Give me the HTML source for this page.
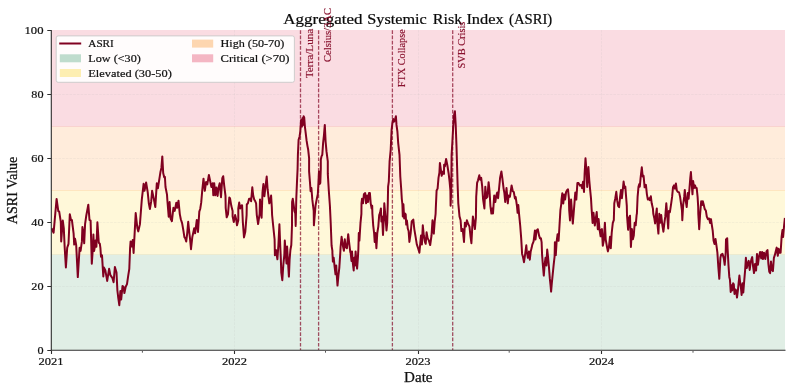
<!DOCTYPE html>
<html><head><meta charset="utf-8"><title>ASRI</title>
<style>
html,body{margin:0;padding:0;background:#fff;}
body{width:793px;height:392px;overflow:hidden;font-family:"Liberation Serif",serif;}
svg{display:block}
text{font-family:"Liberation Serif",serif;}
</style></head><body>
<svg width="793" height="392" viewBox="0 0 793 392" style="will-change:transform">
<rect x="0" y="0" width="793" height="392" fill="#ffffff"/>
<defs><clipPath id="ax"><rect x="51.0" y="30.0" width="734.0" height="320.0"/></clipPath></defs>
<!-- bands -->
<rect x="51.0" y="30.0" width="734.0" height="96.0" fill="#fadce2"/>
<rect x="51.0" y="126.0" width="734.0" height="64.0" fill="#ffecdb"/>
<rect x="51.0" y="190.0" width="734.0" height="64.0" fill="#fff8d9"/>
<rect x="51.0" y="254.0" width="734.0" height="96.0" fill="#e0eee5"/>
<path d="M51.0,126.5H785.0" stroke="#f9d3cf" stroke-width="1"/>
<path d="M51.0,190.5H785.0" stroke="#fee6c0" stroke-width="1"/>
<path d="M51.0,254.5H785.0" stroke="#ecebd0" stroke-width="1"/>
<!-- grid -->
<g stroke="#b0b0b0" stroke-opacity="0.19" stroke-width="0.7" stroke-dasharray="2.6,1.1" fill="none">
<path d="M51.0,286.5H785.0 M51.0,222.5H785.0 M51.0,158.5H785.0 M51.0,94.5H785.0"/>
<path d="M234.5,30.0V350.0 M418.5,30.0V350.0 M601.5,30.0V350.0"/>
</g>
<!-- event lines -->
<g stroke="#800020" stroke-opacity="0.68" stroke-width="1.3" stroke-dasharray="3.7,1.6" stroke-dashoffset="1.9" fill="none">
<path d="M300.5,350.0V30.0 M318.6,350.0V30.0 M392.4,350.0V30.0 M452.7,350.0V30.0"/>
</g>
<!-- data line -->
<path id="asri" clip-path="url(#ax)" d="M51.5,228.3 L53.6,232.7 L56.6,198.9 L58.3,211.1 L59.2,211.7 L60.8,221.9 L61.2,241.4 L62.8,220.6 L63.8,228.3 L64.7,247.8 L65.9,267.5 L67.2,247.8 L68.5,243.9 L69.8,214.2 L71.0,220.0 L71.9,220.0 L73.6,233.4 L74.2,244.6 L75.1,238.8 L76.2,245.2 L77.8,277.1 L79.6,247.8 L80.6,250.9 L81.9,241.4 L82.4,227.0 L83.4,233.4 L84.2,243.3 L85.1,223.8 L86.3,215.5 L88.3,204.7 L89.5,220.0 L90.6,220.6 L91.8,263.7 L92.9,247.8 L93.4,234.5 L94.1,251.0 L94.8,247.0 L95.4,240.6 L96.4,246.7 L97.4,222.2 L98.8,242.7 L99.8,243.7 L100.4,247.8 L101.0,256.7 L102.0,255.4 L103.3,276.4 L104.0,267.6 L105.3,270.1 L107.2,280.9 L109.1,268.8 L110.4,275.2 L112.3,277.8 L113.6,282.2 L114.9,266.9 L116.5,272.6 L117.4,290.5 L118.3,298.2 L119.3,305.2 L120.4,291.1 L121.2,299.4 L122.5,286.1 L123.4,286.7 L124.4,293.1 L125.7,286.7 L127.0,284.1 L128.3,275.2 L129.3,268.8 L130.1,247.8 L130.6,241.4 L131.6,246.5 L132.7,240.1 L133.6,252.9 L134.4,237.6 L134.7,232.1 L135.7,213.0 L137.4,228.3 L138.3,231.4 L139.9,224.4 L141.8,199.6 L143.6,183.8 L144.5,190.8 L146.1,182.5 L147.7,192.1 L148.9,203.9 L149.9,209.0 L151.2,201.4 L152.1,190.8 L153.8,198.8 L155.3,207.1 L156.8,183.2 L157.9,188.3 L158.9,181.9 L160.4,172.3 L161.4,167.9 L162.3,156.4 L163.2,173.0 L164.2,177.4 L164.9,176.8 L165.5,187.0 L167.0,194.6 L167.4,200.7 L168.7,216.7 L169.6,202.0 L170.6,218.6 L171.9,221.2 L173.4,207.8 L174.7,210.9 L176.3,202.7 L177.2,207.8 L178.5,200.7 L179.8,214.1 L180.8,219.2 L182.1,223.1 L183.4,230.7 L184.4,237.1 L185.3,238.4 L186.2,241.6 L187.2,233.3 L188.2,221.8 L189.1,230.7 L190.0,238.4 L191.0,249.2 L192.3,237.1 L194.2,228.2 L195.1,233.3 L196.8,219.9 L198.0,232.0 L199.3,211.6 L200.2,209.0 L201.2,202.7 L202.2,190.8 L203.5,178.7 L204.8,190.8 L206.1,181.9 L207.3,184.4 L208.9,174.9 L210.2,181.2 L211.4,187.0 L212.7,183.2 L213.3,195.3 L214.2,183.2 L215.3,195.3 L216.3,187.6 L217.6,195.9 L218.4,188.3 L219.7,183.2 L221.0,197.2 L222.3,178.1 L223.2,176.2 L224.2,185.7 L225.5,195.9 L225.7,207.8 L226.7,217.3 L228.0,214.1 L229.3,197.6 L230.0,198.2 L231.3,205.8 L232.6,210.9 L232.6,216.4 L233.8,222.1 L235.1,215.1 L236.1,218.9 L237.0,225.3 L238.3,220.2 L238.3,208.4 L239.2,202.6 L240.2,208.4 L241.2,205.8 L242.1,205.2 L242.8,221.5 L244.0,237.4 L245.3,231.7 L246.6,215.1 L246.8,204.5 L247.9,203.3 L249.1,198.8 L250.4,198.8 L251.1,201.3 L252.3,187.3 L253.2,195.6 L254.2,199.4 L255.3,201.3 L256.1,203.3 L256.8,215.1 L258.1,224.0 L259.6,213.8 L260.0,199.4 L261.2,213.5 L261.6,217.7 L262.5,192.4 L263.4,184.1 L264.4,196.2 L265.5,186.7 L266.7,176.5 L267.6,189.2 L268.5,196.9 L269.3,203.3 L270.2,200.7 L271.1,195.6 L271.8,207.1 L272.1,215.0 L273.1,225.0 L274.6,239.5 L274.9,255.2 L275.9,250.0 L277.4,259.3 L278.4,245.0 L279.4,224.2 L280.2,245.0 L280.8,258.0 L281.3,272.6 L282.3,280.2 L283.3,265.0 L284.3,255.2 L284.8,240.5 L285.6,252.0 L286.5,263.4 L287.1,246.6 L288.2,265.0 L288.9,276.6 L289.6,260.0 L290.4,250.0 L291.3,245.0 L291.6,237.0 L292.0,225.0 L292.1,202.0 L292.8,198.8 L293.8,205.8 L294.4,210.9 L295.3,213.5 L295.7,225.9 L296.3,198.2 L297.0,181.6 L297.6,168.8 L297.9,154.8 L298.6,139.8 L299.6,136.5 L300.3,131.5 L301.1,119.9 L301.9,126.6 L302.4,118.3 L302.9,124.9 L303.6,116.3 L304.2,117.4 L304.9,126.6 L305.7,133.2 L306.6,140.7 L307.4,145.6 L308.2,149.8 L309.1,158.1 L309.1,171.4 L310.1,184.1 L310.6,191.2 L311.4,188.0 L312.3,199.4 L312.9,204.5 L313.7,210.9 L313.9,225.3 L315.5,205.8 L316.7,199.4 L317.8,194.3 L318.3,185.4 L319.0,171.4 L319.5,184.1 L320.3,182.9 L320.8,168.8 L320.8,159.7 L321.5,156.4 L322.3,154.8 L323.1,143.1 L324.0,134.8 L324.8,124.9 L325.6,141.5 L326.5,151.4 L327.8,161.4 L327.8,173.9 L328.8,190.5 L329.9,205.8 L330.7,222.8 L331.6,245.7 L332.4,250.8 L332.4,252.7 L332.9,261.6 L333.7,257.8 L334.6,266.7 L335.5,274.3 L336.2,265.4 L336.7,274.3 L337.5,285.6 L338.4,275.6 L339.3,268.0 L340.3,252.7 L340.6,247.0 L341.6,236.8 L342.9,245.7 L343.9,250.8 L344.8,239.3 L345.7,247.0 L346.9,248.3 L348.2,234.2 L349.2,243.2 L350.3,252.1 L350.5,251.4 L351.5,260.9 L352.0,251.4 L352.8,262.9 L353.7,270.5 L354.3,257.8 L355.0,265.4 L355.6,251.4 L356.4,261.6 L357.1,268.6 L357.9,257.8 L358.4,248.8 L358.8,233.0 L359.4,240.6 L360.5,222.8 L361.4,213.8 L361.5,203.3 L362.0,198.8 L363.0,203.3 L363.9,194.3 L365.2,193.1 L366.1,203.3 L367.1,195.6 L368.1,202.0 L369.0,193.1 L369.9,193.1 L370.7,203.3 L371.6,208.4 L372.2,205.8 L372.4,213.8 L373.2,225.3 L374.1,233.0 L374.7,241.9 L375.4,233.0 L376.4,248.3 L377.3,233.0 L378.3,226.6 L379.2,215.1 L380.1,212.6 L380.9,208.4 L381.4,221.5 L382.1,216.4 L383.0,234.9 L383.9,216.4 L384.3,203.3 L385.6,218.9 L386.5,230.4 L387.2,222.8 L387.8,203.3 L388.1,186.7 L388.8,181.6 L389.6,161.4 L390.7,149.8 L391.6,129.9 L392.4,123.2 L393.2,119.1 L394.1,121.6 L394.9,119.9 L395.9,116.3 L396.5,124.9 L397.4,131.5 L398.2,143.1 L399.5,154.8 L400.3,176.5 L401.3,190.5 L401.8,199.0 L402.4,204.5 L402.8,216.4 L403.4,204.2 L404.2,218.5 L404.9,213.4 L405.7,214.4 L406.2,224.6 L406.9,220.5 L407.8,228.7 L408.6,231.0 L409.4,241.9 L410.7,233.0 L411.7,221.5 L413.3,219.6 L414.3,229.1 L415.6,236.8 L416.8,244.4 L418.1,248.3 L419.4,252.7 L421.0,235.5 L421.9,244.4 L422.8,225.3 L423.8,235.5 L424.9,241.9 L425.7,243.8 L426.6,232.3 L427.6,238.1 L428.9,240.6 L430.2,245.1 L431.5,235.5 L432.5,220.2 L433.8,233.6 L434.7,221.5 L435.6,213.8 L435.8,208.4 L436.6,190.5 L437.6,188.6 L438.5,177.8 L439.4,172.7 L439.9,163.0 L441.7,175.8 L443.0,171.4 L444.0,173.9 L444.1,164.7 L444.9,166.4 L446.1,158.9 L447.4,165.5 L448.7,173.9 L449.6,181.6 L450.4,190.5 L450.6,205.8 L451.2,190.5 L451.6,154.8 L452.4,141.5 L453.2,126.6 L454.1,115.0 L454.9,111.3 L455.7,124.9 L456.5,146.5 L457.6,184.1 L458.3,203.3 L459.5,216.4 L460.6,220.2 L461.4,231.1 L462.7,229.1 L464.0,241.9 L464.9,222.8 L465.9,226.6 L466.9,220.2 L468.2,224.0 L469.5,226.6 L470.4,235.5 L471.4,243.2 L472.3,226.6 L472.9,216.4 L473.8,221.5 L474.9,229.1 L475.9,217.7 L476.2,196.9 L477.1,182.9 L478.0,180.3 L479.3,175.2 L480.2,179.7 L481.2,177.8 L482.2,186.7 L483.1,199.4 L484.4,208.4 L485.3,186.7 L486.3,198.2 L487.4,196.9 L488.6,182.2 L489.5,190.5 L490.4,205.8 L491.4,213.5 L492.1,208.4 L493.0,213.5 L494.2,195.6 L495.3,202.0 L496.3,195.6 L497.2,192.4 L498.1,198.2 L499.1,188.0 L500.1,177.8 L501.4,171.4 L502.3,177.8 L503.6,188.6 L504.4,193.1 L505.2,202.0 L506.5,188.0 L507.8,203.3 L508.6,195.6 L509.9,196.9 L511.6,185.4 L512.8,191.3 L513.8,192.0 L514.9,198.4 L515.7,197.1 L516.6,203.5 L517.0,206.4 L517.6,212.8 L518.3,205.1 L519.2,215.3 L520.2,225.5 L521.2,238.3 L522.1,253.9 L523.0,257.1 L524.0,262.2 L525.0,255.2 L526.3,245.3 L526.8,251.4 L527.9,257.8 L528.9,251.4 L529.8,259.7 L530.7,251.4 L531.7,247.6 L532.3,244.6 L533.6,241.4 L534.9,230.6 L535.5,239.5 L536.5,230.6 L537.8,229.3 L539.1,235.7 L540.0,238.3 L540.9,238.3 L541.6,242.1 L542.1,255.2 L542.9,265.4 L543.8,275.6 L544.7,264.1 L545.5,257.8 L546.4,265.4 L547.2,249.5 L548.0,256.5 L548.9,266.7 L549.8,278.2 L550.6,285.8 L551.1,291.6 L551.8,283.3 L552.7,274.3 L553.6,265.4 L554.6,256.5 L554.9,242.3 L555.8,255.1 L556.6,241.8 L557.6,234.2 L558.6,240.8 L559.5,225.5 L560.4,210.2 L561.3,203.8 L561.5,199.6 L562.3,193.3 L563.3,203.5 L564.2,194.5 L565.1,199.6 L566.1,192.0 L567.1,190.1 L568.0,189.4 L568.9,198.4 L569.2,210.2 L570.0,220.4 L570.8,205.1 L571.1,199.6 L571.9,211.5 L572.8,223.6 L573.8,211.5 L574.5,202.6 L574.8,198.4 L575.3,192.6 L576.3,199.6 L577.4,183.1 L578.6,183.1 L579.9,185.6 L581.2,185.0 L582.1,188.2 L583.0,181.8 L584.0,192.0 L584.6,174.1 L585.5,158.2 L586.5,171.6 L587.2,186.9 L588.4,167.1 L589.3,180.5 L590.1,189.4 L591.0,198.4 L591.6,208.9 L592.6,223.0 L593.5,212.8 L594.8,225.5 L595.7,219.1 L596.7,212.1 L597.8,229.3 L598.6,219.1 L599.5,229.3 L600.6,236.3 L601.0,230.4 L601.9,229.1 L602.8,245.7 L603.8,240.6 L604.9,222.8 L605.7,239.3 L607.0,247.0 L607.9,251.4 L608.9,247.0 L610.0,236.8 L610.8,248.3 L611.7,233.0 L612.8,222.8 L613.8,220.2 L614.3,203.3 L615.3,198.2 L616.3,191.8 L617.2,200.7 L618.1,205.8 L619.1,207.1 L620.1,196.9 L621.0,189.9 L621.9,198.2 L622.7,190.5 L623.6,181.6 L624.5,188.0 L625.3,186.7 L626.1,196.9 L626.8,205.8 L627.0,215.1 L628.1,229.8 L629.1,217.7 L630.0,215.7 L630.9,247.0 L631.9,229.1 L632.9,239.3 L633.8,235.5 L634.7,222.8 L635.7,225.3 L636.6,215.1 L636.9,213.5 L637.6,196.9 L638.5,186.7 L639.3,184.1 L639.8,186.7 L640.6,177.8 L641.8,167.3 L642.7,176.5 L643.6,175.8 L644.6,187.3 L645.9,184.8 L646.9,194.3 L647.8,199.4 L649.1,198.2 L649.7,200.1 L650.8,196.2 L651.7,203.3 L652.9,208.4 L653.3,213.8 L654.2,217.7 L655.1,223.4 L656.1,213.8 L656.8,208.4 L657.1,220.2 L658.4,233.6 L659.3,213.8 L660.2,222.8 L661.2,215.1 L662.2,224.0 L663.4,231.7 L664.4,222.8 L665.3,216.4 L666.3,203.3 L667.4,217.7 L668.2,228.5 L668.9,210.9 L669.9,212.2 L671.2,203.3 L672.1,196.9 L673.0,187.3 L674.0,185.4 L675.0,188.6 L675.9,183.5 L676.8,190.5 L677.8,191.8 L679.1,192.4 L680.1,196.9 L681.0,203.3 L682.0,210.9 L682.3,220.2 L683.2,204.5 L684.2,196.9 L684.8,189.9 L685.7,200.7 L686.7,207.1 L687.8,193.1 L688.6,198.8 L689.5,188.0 L690.3,177.8 L690.9,172.0 L691.8,185.4 L692.5,194.3 L693.1,180.9 L694.1,188.0 L695.0,185.4 L695.9,188.0 L696.7,188.0 L697.6,196.9 L698.2,207.1 L698.2,207.7 L698.3,214.0 L699.2,229.3 L700.2,212.8 L701.2,201.3 L702.1,205.1 L702.8,201.3 L703.8,205.1 L704.7,208.9 L705.9,210.8 L706.8,216.6 L707.9,219.1 L709.1,218.5 L710.1,223.0 L711.0,219.1 L711.9,225.5 L712.7,230.6 L713.6,240.8 L714.5,244.0 L715.5,238.9 L716.5,245.9 L717.4,252.7 L718.3,266.7 L719.3,278.8 L720.4,257.8 L721.2,254.6 L722.5,253.9 L723.8,258.4 L724.7,264.8 L725.7,252.7 L726.0,239.5 L727.2,238.3 L727.6,248.8 L728.5,265.4 L729.3,276.9 L729.9,279.4 L730.2,283.3 L730.7,291.9 L731.4,285.3 L732.2,290.4 L733.1,283.3 L733.8,284.3 L734.5,294.0 L735.3,289.4 L736.1,290.4 L737.0,297.6 L737.9,290.4 L738.6,283.3 L739.4,275.6 L740.2,283.3 L740.9,287.4 L741.6,295.0 L742.5,283.3 L743.3,292.4 L744.0,283.3 L744.7,275.1 L745.1,270.5 L745.9,257.8 L746.8,268.0 L747.6,264.1 L748.7,260.9 L749.7,269.9 L750.6,262.9 L751.5,259.0 L752.2,257.1 L753.1,266.7 L754.0,273.1 L755.0,264.1 L756.1,270.5 L757.0,253.9 L757.9,264.8 L758.9,257.1 L760.1,252.0 L761.2,258.4 L762.1,252.0 L763.0,259.0 L764.0,252.7 L765.3,259.0 L766.5,251.4 L767.5,250.1 L768.4,264.1 L769.3,271.8 L770.1,273.1 L771.0,261.6 L771.9,269.9 L772.9,271.1 L773.9,257.8 L774.8,255.2 L775.7,251.4 L776.7,247.6 L777.8,255.8 L778.6,248.8 L779.5,252.7 L780.6,252.7 L781.6,237.0 L782.5,230.0 L783.1,237.0 L784.1,225.5 L784.9,217.9" fill="none" stroke="#800020" stroke-width="2.0" stroke-linejoin="round" stroke-linecap="butt"/>
<!-- spines -->
<g stroke="#2e2e2e" stroke-width="1.1" fill="none">
<path d="M51.3,30.0V350.8"/>
<path d="M50.8,350.3H785.5"/>
<!-- ticks -->
<path d="M47.3,350.5H51.0 M47.3,286.5H51.0 M47.3,222.5H51.0 M47.3,158.5H51.0 M47.3,94.5H51.0 M47.3,30.5H51.0"/>
<path d="M51.5,351.0v3.0 M234.5,351.0v3.0 M418.5,351.0v3.0 M601.5,351.0v3.0"/>
<path d="M142.4,351.0v1.7 M325.5,351.0v1.7 M509.2,351.0v1.7 M693.0,351.0v1.7" stroke-width="0.9" stroke="#444"/>
</g>
<!-- tick labels -->
<g font-size="10.9" fill="#111" stroke="#111" stroke-width="0.2">
<text x="43.5" y="353.6" text-anchor="end" textLength="6.1" lengthAdjust="spacingAndGlyphs">0</text>
<text x="43.5" y="289.6" text-anchor="end" textLength="12.2" lengthAdjust="spacingAndGlyphs">20</text>
<text x="43.5" y="225.6" text-anchor="end" textLength="12.2" lengthAdjust="spacingAndGlyphs">40</text>
<text x="43.5" y="161.6" text-anchor="end" textLength="12.2" lengthAdjust="spacingAndGlyphs">60</text>
<text x="43.5" y="97.6" text-anchor="end" textLength="12.2" lengthAdjust="spacingAndGlyphs">80</text>
<text x="43.5" y="33.6" text-anchor="end" textLength="19" lengthAdjust="spacingAndGlyphs">100</text>
<text x="51" y="365.2" text-anchor="middle" textLength="25.0" lengthAdjust="spacingAndGlyphs">2021</text>
<text x="234.5" y="365.2" text-anchor="middle" textLength="25.0" lengthAdjust="spacingAndGlyphs">2022</text>
<text x="418" y="365.2" text-anchor="middle" textLength="25.0" lengthAdjust="spacingAndGlyphs">2023</text>
<text x="601.5" y="365.2" text-anchor="middle" textLength="25.0" lengthAdjust="spacingAndGlyphs">2024</text>
</g>
<!-- axis labels -->
<text x="418.3" y="381.6" font-size="14" text-anchor="middle" fill="#111" stroke="#111" stroke-width="0.25" textLength="28.4" lengthAdjust="spacingAndGlyphs">Date</text>
<text transform="translate(17.4,190.4) rotate(-90)" font-size="14" text-anchor="middle" fill="#111" stroke="#111" stroke-width="0.25" textLength="67.6" lengthAdjust="spacingAndGlyphs">ASRI Value</text>
<!-- title -->
<g font-size="14.8" fill="#0a0a0a" stroke="#0a0a0a" stroke-width="0.22" lengthAdjust="spacingAndGlyphs">
<text x="283.3" y="23.9" textLength="79.3" lengthAdjust="spacingAndGlyphs">Aggregated</text>
<text x="367.3" y="23.9" textLength="59.5" lengthAdjust="spacingAndGlyphs">Systemic</text>
<text x="432.8" y="23.9" textLength="29.4" lengthAdjust="spacingAndGlyphs">Risk</text>
<text x="466.4" y="23.9" textLength="37.4" lengthAdjust="spacingAndGlyphs">Index</text>
<text x="509.0" y="23.9" textLength="43.2" lengthAdjust="spacingAndGlyphs">(ASRI)</text>
</g>
<!-- event labels -->
<g font-size="10" fill="#800020" fill-opacity="0.9" stroke="#800020" stroke-width="0.15" stroke-opacity="0.9">
<text transform="translate(313,78.2) rotate(-90)" textLength="49.5" lengthAdjust="spacingAndGlyphs">Terra/Luna</text>
<text transform="translate(331.4,62) rotate(-90)" textLength="54" lengthAdjust="spacingAndGlyphs">Celsius/3AC</text>
<text transform="translate(404.8,87.2) rotate(-90)" textLength="57.9" lengthAdjust="spacingAndGlyphs">FTX Collapse</text>
<text transform="translate(464.8,68.4) rotate(-90)" textLength="46.7" lengthAdjust="spacingAndGlyphs">SVB Crisis</text>
</g>
<!-- legend -->
<rect x="56.2" y="35.9" width="238.2" height="46.4" rx="2" ry="2" fill="#fffefd" fill-opacity="0.94" stroke="#c8c8c8" stroke-width="0.9"/>
<path d="M59.2,43.5H81.2" stroke="#800020" stroke-width="2.0"/>
<rect x="59.8" y="54.3" width="21.2" height="8" fill="#bfdccd"/>
<rect x="59.8" y="69" width="21.2" height="8" fill="#fdeeb2"/>
<rect x="192" y="39.6" width="21.2" height="8" fill="#fdd6b0"/>
<rect x="192" y="54.3" width="21.2" height="8" fill="#f4b6c3"/>
<g font-size="10.8" fill="#111" stroke="#111" stroke-width="0.2">
<text x="88.3" y="46.9" textLength="25.5" lengthAdjust="spacingAndGlyphs">ASRI</text>
<text x="88.3" y="61.8" textLength="52.5" lengthAdjust="spacingAndGlyphs">Low (&lt;30)</text>
<text x="88.3" y="76.7" textLength="83.5" lengthAdjust="spacingAndGlyphs">Elevated (30-50)</text>
<text x="220.5" y="46.9" textLength="63.8" lengthAdjust="spacingAndGlyphs">High (50-70)</text>
<text x="220.5" y="61.8" textLength="69" lengthAdjust="spacingAndGlyphs">Critical (&gt;70)</text>
</g>
</svg>
</body></html>
